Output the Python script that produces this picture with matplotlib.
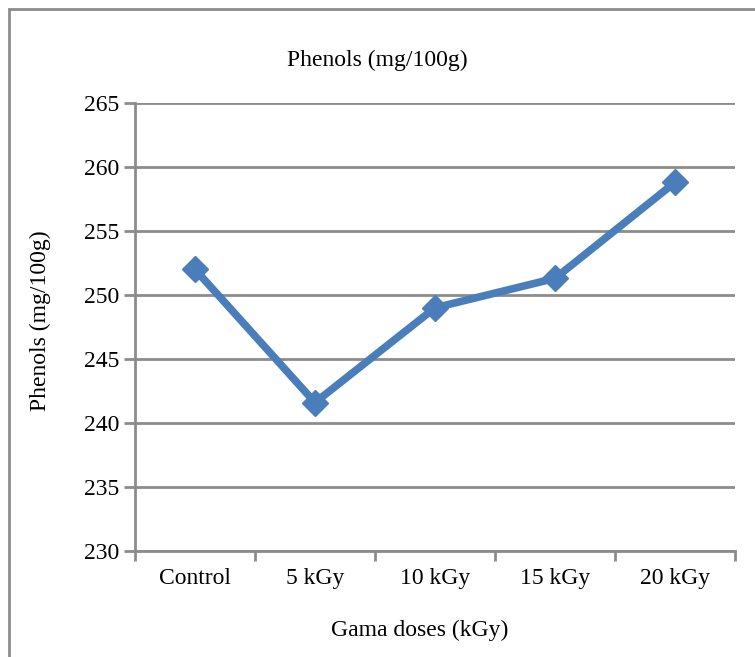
import matplotlib
matplotlib.use("Agg")
import matplotlib.pyplot as plt
from matplotlib.patches import Rectangle

categories = ["Control", "5 kGy", "10 kGy", "15 kGy", "20 kGy"]
phenols = [252.0, 241.6, 249.0, 251.3, 258.8]
yticks = [230, 235, 240, 245, 250, 255, 260, 265]

plt.rcParams['font.family'] = ['Liberation Serif', 'DejaVu Serif']
W, H = 755, 657
fig = plt.figure(figsize=(W / 100, H / 100), dpi=100)
fig.patch.set_facecolor('white')

# outer frame (cropped at right/bottom)
fig.add_artist(Rectangle((9 / W, -0.1), 1.2, (H - 9) / H + 0.1, transform=fig.transFigure,
                         fill=False, edgecolor='#8c8c8c', linewidth=2))

ax = fig.add_axes([135 / W, (H - 551) / H, 600 / W, 448 / H])
x = list(range(len(categories)))
ax.plot(x, phenols, color='#4a7ebb', linewidth=5.5, marker='D', markersize=13,
        markerfacecolor='#4a7ebb', markeredgecolor='#4a7ebb', zorder=3)

ax.set_xlim(-0.5, len(categories) - 0.5)
ax.set_ylim(230, 265)
ax.set_yticks(yticks)
ax.set_yticklabels([str(t) for t in yticks], fontsize=17)
ax.yaxis.grid(True, color='#8c8c8c', linewidth=2)
ax.set_axisbelow(True)

ax.set_xticks([i - 0.5 for i in range(len(categories) + 1)])
ax.set_xticklabels([])
ax.set_xticks(x, minor=True)
ax.set_xticklabels(categories, minor=True, fontsize=17)
ax.tick_params(axis='x', which='minor', length=0, pad=12)
ax.tick_params(axis='x', which='major', length=7, width=2, color='#8c8c8c', direction='out')
ax.tick_params(axis='y', length=8, width=2, color='#8c8c8c', direction='out', pad=3)

for s in ['top', 'right']:
    ax.spines[s].set_visible(False)
for s in ['left', 'bottom']:
    ax.spines[s].set_color('#8c8c8c')
    ax.spines[s].set_linewidth(2)

fig.text(377 / W, 1 - 60 / H, "Phenols (mg/100g)", ha='center', va='center', fontsize=17)
fig.text(40 / W, 1 - 321 / H, "Phenols (mg/100g)", ha='center', va='center', rotation=90, fontsize=17)
fig.text(420 / W, 1 - 630 / H, "Gama doses (kGy)", ha='center', va='center', fontsize=17)

fig.savefig("out.png", dpi=100)
